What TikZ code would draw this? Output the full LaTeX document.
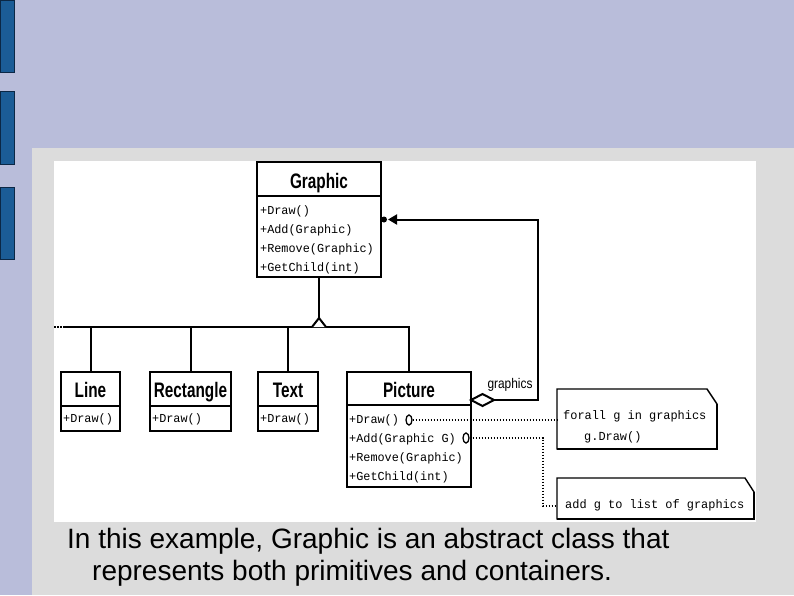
\documentclass[tikz,border=0pt]{standalone}
\usepackage{fontspec}
\setmainfont{Liberation Sans}
\newfontfamily\monof{Liberation Mono}
\usetikzlibrary{arrows.meta,shapes.geometric}
\definecolor{lav}{HTML}{B9BDDA}
\definecolor{slidegray}{HTML}{DCDCDC}
\definecolor{barblue}{HTML}{1B5C96}
\definecolor{bardark}{HTML}{0B2745}
\tikzset{
  box/.style={draw=black, line width=2pt, fill=white, inner sep=0pt, outer sep=0pt, anchor=north west},
  ttl/.style={font=\bfseries\fontsize{21}{21}\selectfont, xscale=0.73, inner sep=0pt, anchor=base},
  mono/.style={font=\monof\fontsize{12.2}{19}\selectfont, inner sep=0pt, anchor=west, xscale=0.97},
  notetxt/.style={font=\monof\fontsize{12.3}{19}\selectfont, inner sep=0pt, anchor=west, xscale=0.97},
  conn/.style={line width=2pt},
  dots/.style={line width=1.5pt, dash pattern=on 1.5pt off 1.5pt},
  notebox/.style={inner sep=0pt, outer sep=0pt, anchor=north west},
  noteline/.style={line width=1.4pt, fill=white},
  circ/.style={draw, ellipse, line width=1.3pt, fill=white, minimum width=6pt, minimum height=10pt, inner sep=0pt},
  bar/.style={fill=barblue, draw=bardark, line width=1pt},
  caption/.style={font=\fontsize{28}{32}\selectfont, inner sep=0pt, anchor=base west}
}
\begin{document}
\begin{tikzpicture}[x=1pt, y=-1pt]
\useasboundingbox (0,0) rectangle (794,595);
% background
\fill[lav] (0,0) rectangle (794,595);
\fill[slidegray] (32,148) rectangle (794,595);
\fill[white] (54,161) rectangle (756,522);
\draw[bar] (0.5,0.5) rectangle (14.5,72);
\draw[bar] (0.5,91) rectangle (14.5,164);
\draw[bar] (0.5,187) rectangle (14.5,259);

% Graphic class
\node[box, minimum width=124pt, minimum height=115pt] (graphic) at (257,162) {};
\draw[conn] ([yshift=-34pt]graphic.north west) -- ([yshift=-34pt]graphic.north east);
\node[ttl] (graphicT) at (319,188) {Graphic};
\node[mono] (g1) at (260,211) {+Draw()};
\node[mono] (g2) at (260,230) {+Add(Graphic)};
\node[mono] (g3) at (260,249) {+Remove(Graphic)};
\node[mono] (g4) at (260,268) {+GetChild(int)};

% Line
\node[box, minimum width=59pt, minimum height=59pt] (line) at (61,372) {};
\draw[conn] ([yshift=-34pt]line.north west) -- ([yshift=-34pt]line.north east);
\node[ttl] (lineT) at (90.5,397) {Line};
\node[mono] (l1) at (63,419) {+Draw()};

% Rectangle
\node[box, minimum width=81pt, minimum height=59pt] (rect) at (150,372) {};
\draw[conn] ([yshift=-34pt]rect.north west) -- ([yshift=-34pt]rect.north east);
\node[ttl] (rectT) at (190.5,397) {Rectangle};
\node[mono] (r1) at (152,419) {+Draw()};

% Text
\node[box, minimum width=60pt, minimum height=59pt] (text) at (258,372) {};
\draw[conn] ([yshift=-34pt]text.north west) -- ([yshift=-34pt]text.north east);
\node[ttl] (textT) at (288,397) {Text};
\node[mono] (t1) at (260,419) {+Draw()};

% Picture
\node[box, minimum width=124pt, minimum height=115pt] (picture) at (347,372) {};
\draw[conn] ([yshift=-33pt]picture.north west) -- ([yshift=-33pt]picture.north east);
\node[ttl] (pictureT) at (409,397) {Picture};
\node[mono] (p1) at (349,420) {+Draw()};
\node[mono] (p2) at (349,439) {+Add(Graphic G)};
\node[mono] (p3) at (349,458) {+Remove(Graphic)};
\node[mono] (p4) at (349,477) {+GetChild(int)};

% generalization
\coordinate (apex) at (319,318);
\coordinate (hl) at (63,327);
\coordinate (hldot) at (54,327);
\coordinate (hr) at (409,327);
\draw[dots] (hldot) -- (hl);
\draw[conn] (hl) -- (hr) -- (picture.north);
\draw[conn] (graphic.south) -- (apex);
\draw[conn, fill=white, line join=miter] (312,327) -- (apex) -- (326,327);
\draw[conn] (line.north) -- (line.north |- hl);
\draw[conn] (rect.north) -- (rect.north |- hl);
\draw[conn] (text.north) -- (text.north |- hl);

% aggregation
\coordinate (aggTip) at (494,400);
\coordinate (aggCorner) at (538,219.5);
\draw[conn, fill=white] (471,400) -- (482.5,394) -- (aggTip) -- (482.5,406) -- cycle;
\draw[conn, -{Triangle[length=9pt, width=10pt]}] (aggTip) -| (aggCorner) -- ([xshift=7pt]graphic.east);
\fill ([xshift=3pt]graphic.east) circle (3pt);
\node[font=\fontsize{14}{14}\selectfont, xscale=0.85, inner sep=0pt] (glabel) at (510,385) {graphics};

% notes
\node[notebox, minimum width=160pt, minimum height=60pt] (note1) at (557,389) {};
\draw[noteline] (note1.north west) -- ([xshift=-10pt]note1.north east) -- ([yshift=-15pt]note1.north east) -- (note1.south east) -- (note1.south west) -- cycle;
\draw[line width=2.6pt] ([yshift=-15pt]note1.north east) -- (note1.south east) -- (note1.south west);
\node[notetxt] (n1a) at (563,416) {forall g in graphics};
\node[notetxt] (n1b) at (584,437) {g.Draw()};

\node[notebox, minimum width=197pt, minimum height=41pt] (note2) at (557,478) {};
\draw[noteline] (note2.north west) -- ([xshift=-9pt]note2.north east) -- ([yshift=-14pt]note2.north east) -- (note2.south east) -- (note2.south west) -- cycle;
\draw[line width=2.6pt] ([yshift=-14pt]note2.north east) -- (note2.south east) -- (note2.south west);
\node[notetxt] (n2a) at (565,505) {add g to list of graphics};

% dotted note links
\node[circ] (c1) at (409,420) {};
\node[circ] (c2) at (466,438) {};
\coordinate (n2in) at (557,506);
\draw[dots] (c1) -- (c1 -| note1.west);
\draw[dots] (c2) -| (543,506) -- (n2in);

% caption
\node[caption] (cap1) at (67,548) {In this example, Graphic is an abstract class that};
\node[caption] (cap2) at (92,580) {represents both primitives and containers.};
\end{tikzpicture}
\end{document}
